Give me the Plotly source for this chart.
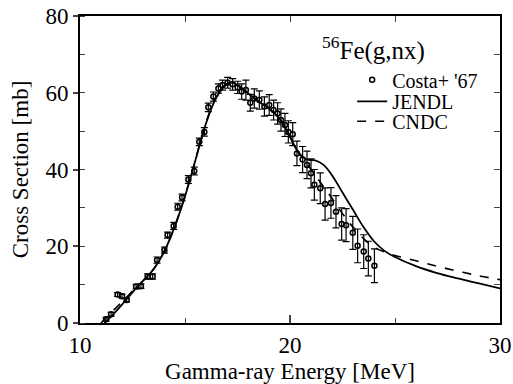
import plotly.graph_objects as go

# Experimental data: Costa+ '67
exp_E = [11.24, 11.48, 11.79, 12.0, 12.22, 12.67, 12.9, 13.22, 13.46, 13.67, 14.02, 14.17,
         14.46, 14.65, 14.86, 15.16, 15.44, 15.68, 15.92, 16.11, 16.35, 16.59, 16.79, 17.03,
         17.27, 17.51, 17.7, 17.9, 18.11, 18.3, 18.54, 18.78, 19.01, 19.22, 19.41, 19.57,
         19.76, 19.92, 20.13, 20.33, 20.6, 20.81, 21.0, 21.16, 21.44, 21.67, 21.95, 22.19,
         22.46, 22.67, 22.99, 23.22, 23.51, 23.73, 24.02]
exp_xs = [1.0, 2.3, 7.4, 7.0, 6.0, 9.5, 9.6, 12.1, 12.1, 16.4, 19.0, 22.9,
          25.3, 30.3, 32.7, 37.4, 39.6, 47.2, 49.8, 56.2, 59.0, 61.1, 62.0, 62.6,
          62.2, 61.4, 60.3, 60.7, 57.4, 58.5, 58.1, 56.4, 56.8, 55.5, 54.6, 52.9,
          51.6, 49.8, 49.2, 44.2, 42.6, 41.2, 39.0, 36.0, 35.1, 31.0, 31.3, 29.0,
          25.8, 25.5, 23.5, 20.1, 18.6, 16.8, 14.9]
exp_err = [0.5, 0.5, 0.5, 0.5, 0.5, 0.6, 0.6, 0.7, 0.7, 0.8, 0.8, 0.8,
           0.9, 0.9, 0.9, 1.0, 1.0, 1.0, 1.1, 1.1, 1.2, 1.2, 1.3, 1.4,
           1.5, 1.6, 2.0, 2.6, 2.2, 2.5, 2.4, 2.5, 2.7, 2.6, 2.8, 2.9,
           3.0, 2.9, 3.0, 3.2, 3.4, 3.6, 3.8, 4.0, 4.0, 4.2, 4.0, 4.2,
           4.2, 4.3, 4.3, 4.4, 4.4, 4.5, 4.4]

# JENDL evaluation
jendl_E = [11.16, 11.5, 12.0, 12.5, 13.0, 13.5, 14.0, 14.5, 15.0, 15.5, 16.0, 16.5, 17.0,
           17.3, 17.7, 18.2, 18.7, 19.2, 19.6, 20.0, 20.4, 20.8, 21.2, 21.6, 22.0, 22.5,
           23.0, 23.5, 24.0, 24.5, 25.0, 26.0, 27.0, 28.0, 29.0, 30.0]
jendl_xs = [0.0, 1.8, 4.8, 8.0, 11.0, 14.0, 18.5, 25.0, 33.0, 42.5, 52.0, 58.8, 62.3,
            62.6, 61.2, 59.0, 57.0, 55.0, 52.5, 48.5, 44.5, 42.6, 42.4, 41.2, 38.5, 34.0,
            29.5, 25.0, 21.3, 18.8, 17.2, 14.8, 13.0, 11.6, 10.3, 9.0]

# CNDC evaluation
cndc_E = [11.0, 11.5, 12.0, 12.5, 13.0, 13.5, 14.0, 14.5, 14.9, 15.4, 15.9, 16.4, 16.9,
          17.3, 17.7, 18.2, 18.7, 19.2, 19.6, 20.0, 20.4, 20.8, 21.2, 21.6, 22.0, 22.5,
          23.0, 23.5, 24.0, 24.5, 25.0, 26.0, 27.0, 28.0, 29.0, 30.0]
cndc_xs = [0.0, 2.8, 5.5, 8.3, 11.0, 14.0, 18.5, 25.0, 31.5, 40.5, 50.5, 58.0, 62.0,
           62.6, 61.2, 59.0, 57.0, 55.0, 52.5, 48.5, 44.5, 41.5, 38.5, 35.5, 32.5, 28.5,
           25.0, 22.0, 19.8, 18.5, 17.6, 16.2, 14.8, 13.5, 12.3, 11.3]

FONT = "Times New Roman, Liberation Serif, serif"

fig = go.Figure()
fig.add_trace(go.Scatter(
    x=exp_E, y=exp_xs, mode="markers", name="Costa+ '67", legend="legend",
    marker=dict(symbol="circle-open", size=5, color="black", line=dict(width=1.5)),
    error_y=dict(type="data", array=exp_err, color="black", thickness=1.2, width=3.5),
))
fig.add_trace(go.Scatter(
    x=jendl_E, y=jendl_xs, mode="lines", name="JENDL", legend="legend2",
    line=dict(color="black", width=1.8, shape="spline"),
))
fig.add_trace(go.Scatter(
    x=cndc_E, y=cndc_xs, mode="lines", name="CNDC", legend="legend3",
    line=dict(color="black", width=1.6, dash="dash", shape="spline"),
))
# invisible trace for top/right axes ticks
fig.add_trace(go.Scatter(x=[10, 30], y=[0, 80], xaxis="x2", yaxis="y2", mode="none",
                         showlegend=False, hoverinfo="skip"))

leg_common = dict(x=0.648, xanchor="left", yanchor="middle", bgcolor="rgba(0,0,0,0)",
                  font=dict(size=20, family=FONT, color="black"))

fig.update_layout(
    width=513, height=384,
    margin=dict(l=80, r=13, t=16, b=61, autoexpand=False),
    paper_bgcolor="white", plot_bgcolor="white",
    font=dict(family=FONT, size=22, color="black"),
    showlegend=True,
    legend=dict(y=0.792, **leg_common),
    legend2=dict(y=0.722, **leg_common),
    legend3=dict(y=0.657, **leg_common),
    xaxis=dict(range=[10, 30], dtick=10, tick0=10, ticks="inside", ticklen=8,
               tickwidth=1.5, showline=True, linecolor="black", linewidth=2,
               mirror=True, showgrid=False, zeroline=False, automargin=False,
               tickfont=dict(size=23, family=FONT),
               minor=dict(dtick=5, ticks="inside", ticklen=5, tickwidth=1.2, showgrid=False),
               title=dict(text="Gamma-ray Energy [MeV]", standoff=10,
                          font=dict(size=23, family=FONT))),
    yaxis=dict(range=[0, 80], dtick=20, ticks="outside", ticklen=5, tickwidth=1.5,
               showline=True, linecolor="black", linewidth=2, mirror=True,
               showgrid=False, zeroline=False, automargin=False,
               tickfont=dict(size=23, family=FONT),
               minor=dict(dtick=10, ticks="inside", ticklen=5, tickwidth=1.2, showgrid=False),
               title=dict(text="Cross Section [mb]", standoff=10,
                          font=dict(size=23, family=FONT))),
    xaxis2=dict(range=[10, 30], overlaying="x", side="top", dtick=5, ticks="inside",
                ticklen=6, tickwidth=1.2, showticklabels=False, showgrid=False,
                zeroline=False, anchor="y", automargin=False),
    yaxis2=dict(range=[0, 80], overlaying="y", side="right", dtick=10, ticks="inside",
                ticklen=6, tickwidth=1.2, showticklabels=False, showgrid=False,
                zeroline=False, anchor="x", automargin=False),
    annotations=[dict(text="<sup>56</sup>Fe(g,nx)", x=0.572, y=0.895, xref="paper",
                      yref="paper", xanchor="left", yanchor="middle", showarrow=False,
                      font=dict(size=25, family=FONT))],
)

fig.write_html("out.html")
